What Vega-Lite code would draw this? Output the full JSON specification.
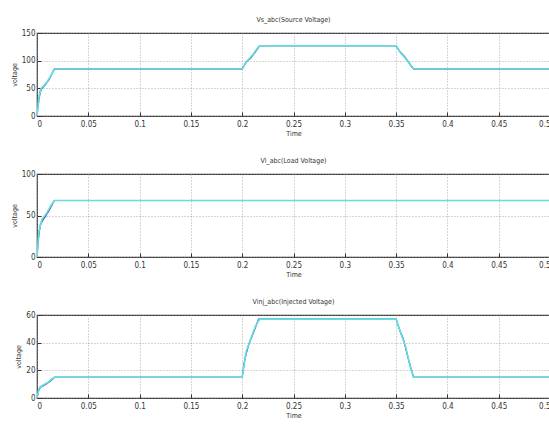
{
  "$schema": "https://vega.github.io/schema/vega-lite/v6.json",
  "padding": {"left": 9, "top": 15, "right": 0, "bottom": 0},
  "background": "white",
  "spacing": 19,
  "datasets": {
    "src": [
      {"t": 0, "v": 0, "s": "a"}, {"t": 0.002, "v": 30, "s": "a"}, {"t": 0.004, "v": 48, "s": "a"}, {"t": 0.009, "v": 58, "s": "a"}, {"t": 0.014, "v": 74, "s": "a"}, {"t": 0.017, "v": 85, "s": "a"}, {"t": 0.2, "v": 85, "s": "a"}, {"t": 0.204, "v": 98, "s": "a"}, {"t": 0.209, "v": 106, "s": "a"}, {"t": 0.214, "v": 120, "s": "a"}, {"t": 0.217, "v": 127, "s": "a"}, {"t": 0.35, "v": 127, "s": "a"}, {"t": 0.354, "v": 115, "s": "a"}, {"t": 0.359, "v": 106, "s": "a"}, {"t": 0.364, "v": 92, "s": "a"}, {"t": 0.367, "v": 85, "s": "a"}, {"t": 0.5, "v": 85, "s": "a"},
      {"t": 0, "v": 0, "s": "b"}, {"t": 0.001, "v": 25, "s": "b"}, {"t": 0.003, "v": 45, "s": "b"}, {"t": 0.007, "v": 55, "s": "b"}, {"t": 0.012, "v": 66, "s": "b"}, {"t": 0.016, "v": 82, "s": "b"}, {"t": 0.017, "v": 85, "s": "b"}, {"t": 0.2, "v": 85, "s": "b"}, {"t": 0.203, "v": 95, "s": "b"}, {"t": 0.208, "v": 104, "s": "b"}, {"t": 0.213, "v": 116, "s": "b"}, {"t": 0.217, "v": 127, "s": "b"}, {"t": 0.35, "v": 127, "s": "b"}, {"t": 0.353, "v": 118, "s": "b"}, {"t": 0.358, "v": 108, "s": "b"}, {"t": 0.363, "v": 95, "s": "b"}, {"t": 0.367, "v": 85, "s": "b"}, {"t": 0.5, "v": 85, "s": "b"},
      {"t": 0, "v": 0, "s": "c"}, {"t": 0.002, "v": 35, "s": "c"}, {"t": 0.004, "v": 50, "s": "c"}, {"t": 0.01, "v": 62, "s": "c"}, {"t": 0.015, "v": 78, "s": "c"}, {"t": 0.017, "v": 85, "s": "c"}, {"t": 0.2, "v": 85, "s": "c"}, {"t": 0.205, "v": 100, "s": "c"}, {"t": 0.21, "v": 110, "s": "c"}, {"t": 0.215, "v": 123, "s": "c"}, {"t": 0.217, "v": 127, "s": "c"}, {"t": 0.35, "v": 127, "s": "c"}, {"t": 0.355, "v": 113, "s": "c"}, {"t": 0.36, "v": 102, "s": "c"}, {"t": 0.365, "v": 89, "s": "c"}, {"t": 0.367, "v": 85, "s": "c"}, {"t": 0.5, "v": 85, "s": "c"}
    ],
    "load": [
      {"t": 0, "v": 0, "s": "a"}, {"t": 0.002, "v": 28, "s": "a"}, {"t": 0.004, "v": 42, "s": "a"}, {"t": 0.008, "v": 48, "s": "a"}, {"t": 0.013, "v": 60, "s": "a"}, {"t": 0.017, "v": 68, "s": "a"}, {"t": 0.5, "v": 68, "s": "a"},
      {"t": 0, "v": 0, "s": "b"}, {"t": 0.001, "v": 20, "s": "b"}, {"t": 0.003, "v": 38, "s": "b"}, {"t": 0.007, "v": 47, "s": "b"}, {"t": 0.012, "v": 56, "s": "b"}, {"t": 0.016, "v": 66, "s": "b"}, {"t": 0.017, "v": 68, "s": "b"}, {"t": 0.5, "v": 68, "s": "b"},
      {"t": 0, "v": 0, "s": "c"}, {"t": 0.002, "v": 32, "s": "c"}, {"t": 0.005, "v": 46, "s": "c"}, {"t": 0.009, "v": 52, "s": "c"}, {"t": 0.014, "v": 63, "s": "c"}, {"t": 0.017, "v": 68, "s": "c"}, {"t": 0.5, "v": 68, "s": "c"}
    ],
    "inj": [
      {"t": 0, "v": 0, "s": "a"}, {"t": 0.002, "v": 6, "s": "a"}, {"t": 0.004, "v": 8, "s": "a"}, {"t": 0.009, "v": 10, "s": "a"}, {"t": 0.014, "v": 13, "s": "a"}, {"t": 0.017, "v": 15, "s": "a"}, {"t": 0.2, "v": 15, "s": "a"}, {"t": 0.203, "v": 30, "s": "a"}, {"t": 0.207, "v": 40, "s": "a"}, {"t": 0.212, "v": 50, "s": "a"}, {"t": 0.216, "v": 57, "s": "a"}, {"t": 0.35, "v": 57, "s": "a"}, {"t": 0.354, "v": 48, "s": "a"}, {"t": 0.358, "v": 40, "s": "a"}, {"t": 0.363, "v": 25, "s": "a"}, {"t": 0.367, "v": 15, "s": "a"}, {"t": 0.5, "v": 15, "s": "a"},
      {"t": 0, "v": 0, "s": "b"}, {"t": 0.001, "v": 5, "s": "b"}, {"t": 0.003, "v": 8, "s": "b"}, {"t": 0.008, "v": 10, "s": "b"}, {"t": 0.013, "v": 12, "s": "b"}, {"t": 0.017, "v": 15, "s": "b"}, {"t": 0.2, "v": 15, "s": "b"}, {"t": 0.202, "v": 26, "s": "b"}, {"t": 0.206, "v": 38, "s": "b"}, {"t": 0.211, "v": 47, "s": "b"}, {"t": 0.216, "v": 57, "s": "b"}, {"t": 0.35, "v": 57, "s": "b"}, {"t": 0.353, "v": 50, "s": "b"}, {"t": 0.357, "v": 43, "s": "b"}, {"t": 0.362, "v": 28, "s": "b"}, {"t": 0.367, "v": 15, "s": "b"}, {"t": 0.5, "v": 15, "s": "b"},
      {"t": 0, "v": 0, "s": "c"}, {"t": 0.002, "v": 7, "s": "c"}, {"t": 0.005, "v": 9, "s": "c"}, {"t": 0.01, "v": 11, "s": "c"}, {"t": 0.015, "v": 14, "s": "c"}, {"t": 0.017, "v": 15, "s": "c"}, {"t": 0.2, "v": 15, "s": "c"}, {"t": 0.204, "v": 34, "s": "c"}, {"t": 0.208, "v": 42, "s": "c"}, {"t": 0.213, "v": 52, "s": "c"}, {"t": 0.217, "v": 57, "s": "c"}, {"t": 0.35, "v": 57, "s": "c"}, {"t": 0.355, "v": 46, "s": "c"}, {"t": 0.359, "v": 38, "s": "c"}, {"t": 0.364, "v": 22, "s": "c"}, {"t": 0.367, "v": 15, "s": "c"}, {"t": 0.5, "v": 15, "s": "c"}
    ]
  },
  "config": {
    "font": "DejaVu Sans Condensed",
    "view": {"stroke": "#333333", "strokeWidth": 1.2},
    "axis": {
      "grid": true,
      "gridColor": "#999999",
      "gridDash": [1, 2],
      "gridOpacity": 0.8,
      "domain": false,
      "tickColor": "#333333",
      "tickSize": -4,
      "labelFont": "DejaVu Sans Condensed",
      "labelFontSize": 8,
      "labelColor": "#333333",
      "titleFont": "DejaVu Sans Condensed",
      "titleFontSize": 7,
      "titleFontWeight": "normal",
      "titleColor": "#333333"
    },
    "title": {"fontSize": 7, "fontWeight": "normal", "font": "DejaVu Sans Condensed", "color": "#333333", "offset": 6}
  },
  "vconcat": [
    {
      "title": "Vs_abc(Source Voltage)",
      "width": 513, "height": 83,
      "data": {"name": "src"},
      "encoding": {
        "x": {"field": "t", "type": "quantitative", "scale": {"domain": [0, 0.5], "nice": false}, "axis": {"values": [0, 0.05, 0.1, 0.15, 0.2, 0.25, 0.3, 0.35, 0.4, 0.45, 0.5], "format": ".2~f", "title": "Time", "labelPadding": 8, "titlePadding": 1}},
        "y": {"field": "v", "type": "quantitative", "scale": {"domain": [0, 150], "nice": false}, "axis": {"values": [0, 50, 100, 150], "title": "voltage", "labelPadding": 6, "titlePadding": 4}},
        "color": {"field": "s", "type": "nominal", "legend": null, "scale": {"domain": ["b", "a", "c"], "range": ["#7a5a9a", "#5a7ad0", "#5fe0e0"]}}
      },
      "layer": [
        {"transform": [{"filter": "datum.s != 'c'"}], "mark": {"type": "line", "strokeWidth": 1.1, "clip": true}},
        {"transform": [{"filter": "datum.s == 'c'"}], "mark": {"type": "line", "strokeWidth": 1.6, "clip": true}}
      ]
    },
    {
      "title": "Vl_abc(Load Voltage)",
      "width": 513, "height": 83,
      "data": {"name": "load"},
      "encoding": {
        "x": {"field": "t", "type": "quantitative", "scale": {"domain": [0, 0.5], "nice": false}, "axis": {"values": [0, 0.05, 0.1, 0.15, 0.2, 0.25, 0.3, 0.35, 0.4, 0.45, 0.5], "format": ".2~f", "title": "Time", "labelPadding": 8, "titlePadding": 1}},
        "y": {"field": "v", "type": "quantitative", "scale": {"domain": [0, 100], "nice": false}, "axis": {"values": [0, 50, 100], "title": "voltage", "labelPadding": 6, "titlePadding": 4}},
        "color": {"field": "s", "type": "nominal", "legend": null, "scale": {"domain": ["b", "a", "c"], "range": ["#7a5a9a", "#5a7ad0", "#5fe0e0"]}}
      },
      "layer": [
        {"transform": [{"filter": "datum.s != 'c'"}], "mark": {"type": "line", "strokeWidth": 1.1, "clip": true}},
        {"transform": [{"filter": "datum.s == 'c'"}], "mark": {"type": "line", "strokeWidth": 1.6, "clip": true}}
      ]
    },
    {
      "title": "Vinj_abc(Injected Voltage)",
      "width": 513, "height": 83,
      "data": {"name": "inj"},
      "encoding": {
        "x": {"field": "t", "type": "quantitative", "scale": {"domain": [0, 0.5], "nice": false}, "axis": {"values": [0, 0.05, 0.1, 0.15, 0.2, 0.25, 0.3, 0.35, 0.4, 0.45, 0.5], "format": ".2~f", "title": "Time", "labelPadding": 8, "titlePadding": 1}},
        "y": {"field": "v", "type": "quantitative", "scale": {"domain": [0, 60], "nice": false}, "axis": {"values": [0, 20, 40, 60], "title": "voltage", "labelPadding": 6, "titlePadding": 4}},
        "color": {"field": "s", "type": "nominal", "legend": null, "scale": {"domain": ["b", "a", "c"], "range": ["#7a5a9a", "#5a7ad0", "#5fe0e0"]}}
      },
      "layer": [
        {"transform": [{"filter": "datum.s != 'c'"}], "mark": {"type": "line", "strokeWidth": 1.1, "clip": true}},
        {"transform": [{"filter": "datum.s == 'c'"}], "mark": {"type": "line", "strokeWidth": 1.6, "clip": true}}
      ]
    }
  ]
}
